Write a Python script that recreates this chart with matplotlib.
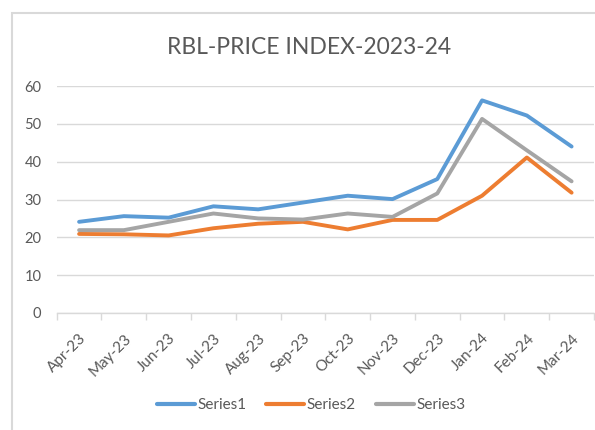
import matplotlib
matplotlib.use('Agg')
import matplotlib.pyplot as plt
from matplotlib.patches import Rectangle
import numpy as np

plt.rcParams['font.family'] = ['Lato', 'DejaVu Sans']

months = ['Apr-23', 'May-23', 'Jun-23', 'Jul-23', 'Aug-23', 'Sep-23',
          'Oct-23', 'Nov-23', 'Dec-23', 'Jan-24', 'Feb-24', 'Mar-24']
series1 = [24.1, 25.6, 25.2, 28.2, 27.4, 29.2, 31.0, 30.1, 35.4, 56.2, 52.2, 44.0]
series2 = [20.9, 20.8, 20.5, 22.4, 23.6, 24.1, 22.1, 24.6, 24.6, 31.0, 41.1, 31.8]
series3 = [21.9, 21.9, 24.1, 26.3, 25.0, 24.7, 26.3, 25.4, 31.6, 51.3, 43.0, 34.8]
series_names = ['Series1', 'Series2', 'Series3']
colors = ['#5B9BD5', '#ED7D31', '#A5A5A5']

W, H = 595, 430
fig = plt.figure(figsize=(W / 100, H / 100), dpi=100)

# chart border (right/bottom cut off in the original)
fig.patches.append(Rectangle((12 / W, -0.1), 1.2, 1 - 13 / H + 0.1,
                             transform=fig.transFigure, fill=False,
                             edgecolor='#d9d9d9', linewidth=1.5))

ax = fig.add_axes([56.7 / W, 1 - 313 / H, (594 - 56.7) / W, (313 - 86) / H])
x = np.arange(len(months))
for vals, name, c in zip([series1, series2, series3], series_names, colors):
    ax.plot(x, vals, color=c, linewidth=2.8, label=name, solid_capstyle='round')

ax.set_xlim(-0.5, len(months) - 0.5)
ax.set_ylim(0, 60)
ax.set_yticks(range(0, 61, 10))
ax.yaxis.grid(True, color='#d9d9d9', linewidth=1)
ax.set_axisbelow(True)
for s in ['top', 'right', 'left']:
    ax.spines[s].set_visible(False)
ax.spines['bottom'].set_color('#d9d9d9')
ax.spines['bottom'].set_linewidth(1)

ax.set_xticks(np.arange(-0.5, len(months), 1.0))
ax.set_xticklabels([])
ax.set_xticks(x, minor=True)
ax.set_xticklabels(months, minor=True, rotation=45, ha='right',
                   rotation_mode='anchor', fontsize=11, color='#595959')
ax.tick_params(axis='x', which='major', length=5, color='#d9d9d9', width=1)
ax.tick_params(axis='x', which='minor', length=0, pad=13)
ax.tick_params(axis='y', length=0, pad=11, labelsize=10.5, labelcolor='#595959')

fig.text(309 / W, 1 - 48 / H, 'RBL-PRICE INDEX-2023-24', ha='center', va='center',
         fontsize=16.5, color='#595959')

leg = fig.legend(loc='center', bbox_to_anchor=(311 / W, 1 - 405 / H), ncol=3,
                 frameon=False, fontsize=11, labelcolor='#595959',
                 handlelength=2.5, handletextpad=0.15, columnspacing=1.3)
for h in leg.legend_handles:
    h.set_linewidth(3)

fig.savefig('out.png', dpi=100)
